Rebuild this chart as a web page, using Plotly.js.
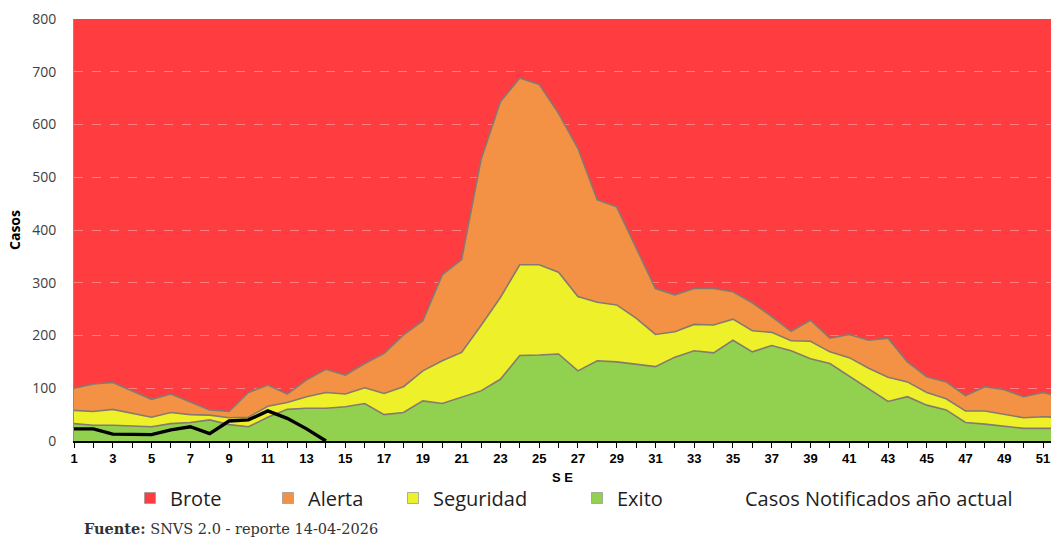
<!DOCTYPE html>
<html>
<head>
<meta charset="utf-8">
<script src="https://cdn.plot.ly/plotly-3.0.1.min.js"></script>
<style>
  html, body { margin: 0; padding: 0; background: #ffffff; }
  #chart { width: 1051px; height: 539px; }
</style>
</head>
<body>
<div id="chart"></div>
<script>
// Semanas epidemiológicas
const semanas = [1,2,3,4,5,6,7,8,9,10,11,12,13,14,15,16,17,18,19,20,21,22,23,24,25,26,
  27,28,29,30,31,32,33,34,35,36,37,38,39,40,41,42,43,44,45,46,47,48,49,50,51,52];

// Límite superior de la zona de Éxito
const exito = [33,30,30,29,27,33,35,40,31,27,45,60,62,62,65,71,50,54,76,71,83,95,117,162,163,165,
  133,152,150,146,141,159,171,167,191,169,181,171,156,147,123,99,75,84,68,59,35,32,28,24,24,24];

// Límite superior de la zona de Seguridad
const seguridad = [58,56,60,52,45,54,50,49,44,45,66,73,84,92,89,101,90,103,133,152,168,219,272,334,334,320,
  274,263,258,233,202,207,221,220,231,209,206,190,189,169,158,138,121,112,92,80,57,57,51,44,46,44];

// Límite superior de la zona de Alerta
const alerta = [100,108,111,95,79,89,74,59,56,92,106,89,116,136,125,147,166,201,228,315,344,533,643,688,676,621,
  555,457,444,368,289,277,289,289,283,262,236,208,229,195,202,191,195,150,122,112,86,103,97,84,92,83];

// Casos notificados año actual (SE 1 a 14)
const semanasActual = [1,2,3,4,5,6,7,8,9,10,11,12,13,14];
const casosActual = [23,23,13,13,12,21,27,14,38,40,57,43,23,0];

const yTicks = [0,100,200,300,400,500,600,700,800];

const colBrote = '#FF3D40';
const colAlerta = '#F39244';
const colSeguridad = '#EEF02A';
const colExito = '#92D050';
const colBorde = '#857a70';

const traces = [
  { x: semanas, y: exito, type: 'scatter', mode: 'lines', fill: 'tozeroy',
    fillcolor: colExito, line: {color: colBorde, width: 1.6}, name: 'Exito', showlegend: false },
  { x: semanas, y: seguridad, type: 'scatter', mode: 'lines', fill: 'tonexty',
    fillcolor: colSeguridad, line: {color: colBorde, width: 1.6}, name: 'Seguridad', showlegend: false },
  { x: semanas, y: alerta, type: 'scatter', mode: 'lines', fill: 'tonexty',
    fillcolor: colAlerta, line: {color: colBorde, width: 1.6}, name: 'Alerta', showlegend: false },
  { x: semanasActual, y: casosActual, type: 'scatter', mode: 'lines',
    line: {color: '#000000', width: 3.4}, name: 'Casos Notificados año actual', showlegend: false },
  // legend entries
  { x: [null], y: [null], type: 'scatter', mode: 'markers', name: 'Brote', legend: 'legend',
    marker: {symbol: 'square', size: 11, color: colBrote, line: {color: '#9a9a9a', width: 0.8}} },
  { x: [null], y: [null], type: 'scatter', mode: 'markers', name: 'Alerta', legend: 'legend2',
    marker: {symbol: 'square', size: 11, color: colAlerta, line: {color: '#9a9a9a', width: 0.8}} },
  { x: [null], y: [null], type: 'scatter', mode: 'markers', name: 'Seguridad', legend: 'legend3',
    marker: {symbol: 'square', size: 11, color: colSeguridad, line: {color: '#9a9a9a', width: 0.8}} },
  { x: [null], y: [null], type: 'scatter', mode: 'markers', name: 'Exito', legend: 'legend4',
    marker: {symbol: 'square', size: 11, color: colExito, line: {color: '#9a9a9a', width: 0.8}} },
  { x: [null], y: [null], type: 'scatter', mode: 'lines', name: 'Casos Notificados año actual', legend: 'legend5',
    line: {color: 'rgba(0,0,0,0)', width: 3} }
];

const legFont = {family: 'Open Sans, Noto Sans, sans-serif', size: 20, color: '#1e1e1e'};
const legBase = {orientation: 'h', yanchor: 'middle', y: -0.135, xanchor: 'left',
  font: legFont, bgcolor: 'rgba(0,0,0,0)', borderwidth: 0, itemwidth: 30};
const pxToPaper = px => (px - 74) / 977;

const layout = {
  width: 1051, height: 539,
  margin: {l: 74, r: 0, t: 19, b: 98, pad: 0},
  paper_bgcolor: '#ffffff',
  plot_bgcolor: colBrote,
  font: {family: 'Open Sans, Noto Sans, sans-serif', color: '#404040'},
  xaxis: {
    range: [1, 51.41],
    tick0: 1, dtick: 2,
    ticks: 'outside', ticklen: 5, tickcolor: '#000000', tickwidth: 1,
    minor: {tick0: 1, dtick: 1, ticks: 'outside', ticklen: 5, tickcolor: '#000000', tickwidth: 1, showgrid: false},
    showline: true, linecolor: '#000000', linewidth: 1.5,
    showgrid: false, zeroline: false,
    tickfont: {family: 'Liberation Sans Narrow, Arial Narrow, Liberation Sans, sans-serif', size: 13, color: '#000000', weight: 'bold'},
    title: {text: 'S E', standoff: 8,
      font: {family: 'Liberation Sans Narrow, Liberation Sans, sans-serif', size: 13, color: '#000000', weight: 'bold'}},
    layer: 'above traces'
  },
  yaxis: {
    range: [0, 800],
    tickvals: yTicks,
    ticks: '', ticklabelstandoff: 14,
    showline: true, linecolor: '#8c8c8c', linewidth: 1,
    showgrid: true, gridcolor: 'rgba(255,255,255,0.35)', griddash: 'dash', gridwidth: 1,
    zeroline: false,
    tickfont: {family: 'Open Sans, Noto Sans, sans-serif', size: 14, color: '#404040'},
    title: {text: 'Casos', standoff: 8,
      font: {family: 'Open Sans, Noto Sans, sans-serif', size: 14, color: '#000000', weight: 'bold'}},
    layer: 'above traces'
  },
  legend: Object.assign({}, legBase, {x: pxToPaper(130)}),
  legend2: Object.assign({}, legBase, {x: pxToPaper(268)}),
  legend3: Object.assign({}, legBase, {x: pxToPaper(393)}),
  legend4: Object.assign({}, legBase, {x: pxToPaper(577)}),
  legend5: Object.assign({}, legBase, {x: pxToPaper(705)}),
  annotations: [{
    xref: 'paper', yref: 'paper', x: pxToPaper(82), y: -(528 - 441) / 422,
    xanchor: 'left', yanchor: 'middle', showarrow: false,
    text: '<b>Fuente:</b> SNVS 2.0 - reporte 14-04-2026',
    font: {family: 'DejaVu Serif, Liberation Serif, serif', size: 14.5, color: '#333333'}
  }],
  showlegend: true
};

Plotly.newPlot('chart', traces, layout, {displayModeBar: false, staticPlot: true});
</script>
</body>
</html>
